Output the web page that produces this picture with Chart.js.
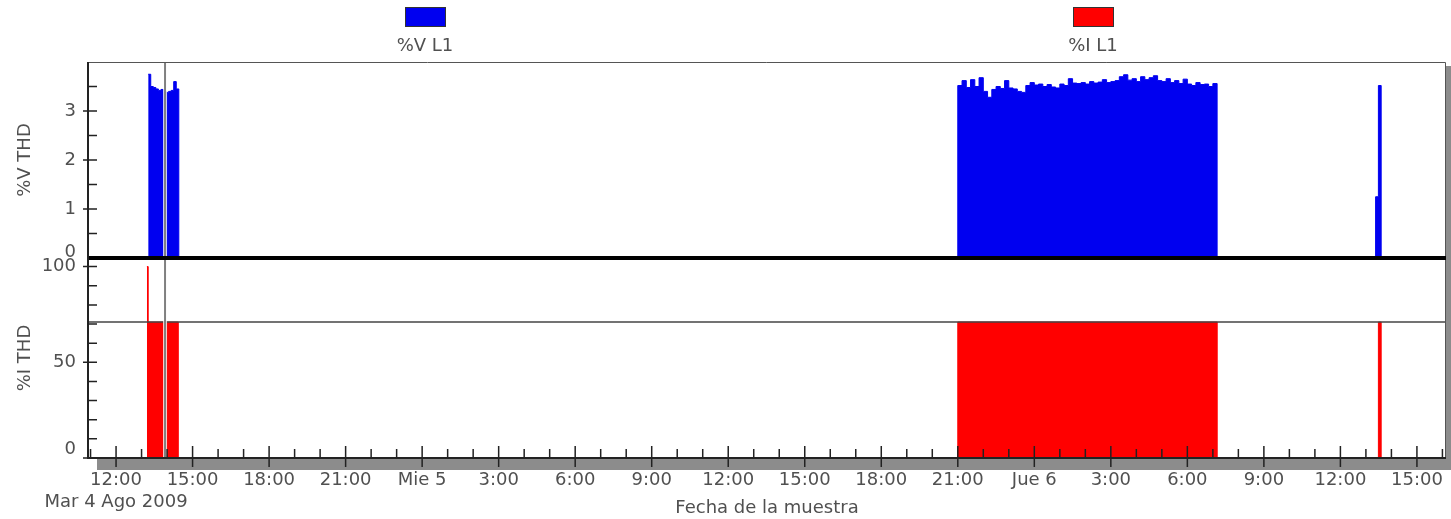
<!DOCTYPE html>
<html>
<head>
<meta charset="utf-8">
<script src="https://cdn.jsdelivr.net/npm/chart.js@4.4.1/dist/chart.umd.min.js"></script>
<style>
  body { margin: 0; background: #fff; }
  #wrap { position: relative; width: 1451px; height: 519px; }
  .lg { position: absolute; top: 7px; width: 100px; text-align: center;
        font: 18px "DejaVu Sans"; color: #505050; line-height: 21px; }
  .lg span { display: block; width: 41px; height: 20px; margin: 0 auto 7px;
             box-sizing: border-box; border: 1px solid #333; }
</style>
</head>
<body>
<div id="wrap">
  <canvas id="thdChart"></canvas>
  <div class="lg" style="left:375px"><span style="background:#0000f0"></span>%V L1</div>
  <div class="lg" style="left:1043px"><span style="background:#ff0000"></span>%I L1</div>
</div>
<script>
const BLUE = '#0000f0';
const RED = '#ff0000';
const FONT = 'DejaVu Sans';
const TEXT = '#505050';

// hours counted from Mar 4 Ago 2009 00:00
const X_TICK_LABELS = [['12:00', 'Mar 4 Ago 2009'], '15:00', '18:00', '21:00', 'Mie 5', '3:00',
    '6:00', '9:00', '12:00', '15:00', '18:00', '21:00', 'Jue 6', '3:00', '6:00', '9:00', '12:00', '15:00'];

// %V L1 runs: start hour, sample step (h), THD values
const V_RUN_START = [13.26, 45.0, 61.38];
const V_RUN_STEP = [0.1, 1 / 6, 0.11];
const V_RUNS = [
    [3.75, 3.50, 3.48, 3.45, 3.42, 3.44, 3.40, 3.38, 3.40, 3.42, 3.60, 3.45],
    [3.52, 3.62, 3.48, 3.64, 3.50, 3.68, 3.40, 3.28, 3.44, 3.50, 3.46, 3.62, 3.47, 3.45, 3.40, 3.38,
     3.52, 3.58, 3.53, 3.55, 3.50, 3.54, 3.49, 3.47, 3.55, 3.52, 3.66, 3.57, 3.56, 3.58, 3.55, 3.60,
     3.57, 3.59, 3.64, 3.58, 3.60, 3.62, 3.70, 3.74, 3.63, 3.66, 3.60, 3.70, 3.64, 3.68, 3.72, 3.62,
     3.60, 3.66, 3.58, 3.62, 3.56, 3.65, 3.55, 3.52, 3.58, 3.54, 3.55, 3.50, 3.56],
    [1.25, 3.52]
];

// %I L1: hour of change and value held from there (0 ends a run)
const I_HOURS = [13.21, 13.26, 14.44, 45.0, 55.17, 61.49, 61.60];
const I_VALUES = [100, 71, 0, 71, 0, 71, 0];

const CURSOR_HOUR = 13.92;
const I_LIMIT = 71;

function buildRuns(starts, steps, runs) {
    let aPoints = [];
    runs.forEach(function (aRun, r) {
        aRun.forEach(function (v, i) {
            aPoints.push({x: starts[r] + i * steps[r], y: v});
        });
        aPoints.push({x: starts[r] + aRun.length * steps[r], y: 0});
    });
    return aPoints;
}

const vPoints = buildRuns(V_RUN_START, V_RUN_STEP, V_RUNS);
const iPoints = I_HOURS.map((h, i) => ({x: h, y: I_VALUES[i]}));

const framePlugin = {
    id: 'frame',
    beforeDraw(chart) {
        const ctx = chart.ctx, ca = chart.chartArea;
        ctx.save();
        ctx.fillStyle = '#fff';
        ctx.fillRect(0, 0, chart.width, chart.height);
        ctx.fillStyle = '#8c8c8c';
        ctx.fillRect(ca.left + 9, ca.top + 4, ca.width + 5, ca.height + 8);
        ctx.fillStyle = '#fff';
        ctx.fillRect(ca.left, ca.top, ca.width, ca.height);
        ctx.restore();
    },
    afterDatasetsDraw(chart) {
        const ctx = chart.ctx, ca = chart.chartArea;
        const x = chart.scales.x, yV = chart.scales.yV, yI = chart.scales.yI;
        ctx.save();

        // limit line in the current panel
        const yl = yI.getPixelForValue(I_LIMIT);
        ctx.strokeStyle = '#444';
        ctx.lineWidth = 1.5;
        ctx.beginPath(); ctx.moveTo(ca.left, yl); ctx.lineTo(ca.right, yl); ctx.stroke();

        // cursor
        const xc = x.getPixelForValue(CURSOR_HOUR);
        ctx.strokeStyle = 'rgba(255,255,255,0.8)';
        ctx.lineWidth = 4;
        ctx.beginPath(); ctx.moveTo(xc, ca.top); ctx.lineTo(xc, ca.bottom); ctx.stroke();
        ctx.strokeStyle = '#808080';
        ctx.lineWidth = 2;
        ctx.beginPath(); ctx.moveTo(xc, ca.top); ctx.lineTo(xc, ca.bottom); ctx.stroke();

        // frame
        ctx.strokeStyle = '#555';
        ctx.lineWidth = 1;
        ctx.beginPath();
        ctx.moveTo(ca.left, ca.top + 0.5); ctx.lineTo(ca.right - 0.5, ca.top + 0.5);
        ctx.lineTo(ca.right - 0.5, ca.bottom);
        ctx.stroke();

        // panel separator
        ctx.strokeStyle = '#000';
        ctx.lineWidth = 4;
        const ys = yV.getPixelForValue(0);
        ctx.beginPath(); ctx.moveTo(ca.left, ys); ctx.lineTo(ca.right, ys); ctx.stroke();

        // axes lines
        ctx.strokeStyle = '#222';
        ctx.lineWidth = 2;
        ctx.beginPath();
        ctx.moveTo(ca.left, ca.top); ctx.lineTo(ca.left, ca.bottom); ctx.lineTo(ca.right, ca.bottom);
        ctx.stroke();

        // x ticks, every hour, labelled every 3 h
        ctx.lineWidth = 1.5;
        ctx.beginPath();
        for (let h = Math.ceil(x.min); h <= x.max; h++) {
            const px = x.getPixelForValue(h);
            if (h % 3 === 0) {
                ctx.moveTo(px, ca.bottom - 12); ctx.lineTo(px, ca.bottom + 9);
            } else {
                ctx.moveTo(px, ca.bottom - 9); ctx.lineTo(px, ca.bottom);
            }
        }
        // y ticks
        for (let v = 0.5; v < yV.max; v += 0.5) {
            const py = yV.getPixelForValue(v);
            ctx.moveTo(ca.left + (v % 1 === 0 ? -5 : 0), py); ctx.lineTo(ca.left + 9, py);
        }
        for (let v = 0; v <= 100; v += 10) {
            const py = yI.getPixelForValue(v);
            ctx.moveTo(ca.left + (v % 50 === 0 ? -5 : 0), py); ctx.lineTo(ca.left + 9, py);
        }
        ctx.stroke();
        ctx.restore();
    }
};

const tickFont = {family: FONT, size: 18};
const titleFont = {family: FONT, size: 18};

new Chart(document.getElementById('thdChart'), {
    type: 'line',
    data: {
        datasets: [{
            label: '%V L1',
            data: vPoints,
            yAxisID: 'yV',
            borderColor: BLUE,
            backgroundColor: BLUE,
            borderWidth: 1,
            fill: 'origin',
            stepped: true,
            pointRadius: 0
        }, {
            label: '%I L1',
            data: iPoints,
            yAxisID: 'yI',
            borderColor: RED,
            backgroundColor: RED,
            borderWidth: 1,
            fill: 'origin',
            stepped: true,
            pointRadius: 0
        }]
    },
    options: {
        animation: false,
        responsive: true,
        maintainAspectRatio: false,
        layout: {padding: {top: 62, right: 0, left: 0, bottom: 0}},
        plugins: {legend: {display: false}, tooltip: {enabled: false}},
        scales: {
            x: {
                type: 'linear',
                min: 10.9,
                max: 64.14,
                grid: {display: false, drawTicks: false},
                border: {display: false},
                ticks: {
                    stepSize: 3,
                    includeBounds: false,
                    autoSkip: false,
                    maxRotation: 0,
                    padding: 12,
                    color: TEXT,
                    font: tickFont,
                    callback: (v, i) => X_TICK_LABELS[i]
                },
                title: {display: true, text: 'Fecha de la muestra', color: TEXT, font: titleFont,
                        padding: {top: 0, bottom: 0}},
                afterFit: s => { s.height = 61; s.paddingRight = 5; }
            },
            yI: {
                type: 'linear',
                position: 'left',
                stack: 'panels',
                stackWeight: 1,
                min: 0,
                max: 104.5,
                grid: {display: false, drawTicks: false},
                border: {display: false},
                ticks: {
                    stepSize: 50,
                    includeBounds: false,
                    padding: 12,
                    color: TEXT,
                    font: {family: FONT, size: 18, lineHeight: 1.0},
                    callback: v => v === 0 ? ['0', ''] : String(v)
                },
                title: {display: true, text: '%I THD', color: TEXT, font: titleFont,
                        padding: {top: 15, bottom: 0}},
                afterFit: s => { s.width = 88; }
            },
            yV: {
                type: 'linear',
                position: 'left',
                stack: 'panels',
                stackWeight: 0.98,
                min: 0,
                max: 4,
                grid: {display: false, drawTicks: false},
                border: {display: false},
                ticks: {
                    stepSize: 1,
                    includeBounds: false,
                    padding: 12,
                    color: TEXT,
                    font: {family: FONT, size: 18, lineHeight: 0.65},
                    callback: v => v === 4 ? '' : (v === 0 ? ['0', ''] : String(v))
                },
                title: {display: true, text: '%V THD', color: TEXT, font: titleFont,
                        padding: {top: 15, bottom: 0}},
                afterFit: s => { s.width = 88; }
            }
        }
    },
    plugins: [framePlugin]
});
</script>
</body>
</html>
